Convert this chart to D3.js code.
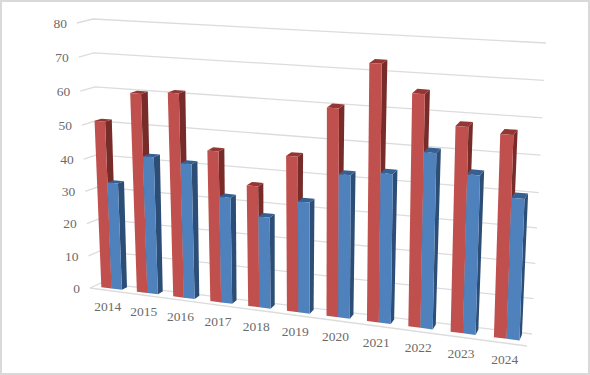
<!DOCTYPE html>
<html>
<head>
<meta charset="utf-8">
<script src="https://cdn.jsdelivr.net/npm/d3@7"></script>
<style>
  html, body { margin: 0; padding: 0; background: #fff; }
  svg { display: block; }
  text { font-family: "Liberation Serif", serif; font-size: 13.5px; fill: #6b6b6b; }
</style>
</head>
<body>
<svg id="chart" width="590" height="375"></svg>
<script>
const years = ["2014", "2015", "2016", "2017", "2018", "2019", "2020", "2021", "2022", "2023", "2024"];
const redValues = [51, 60, 61, 45.3, 36.2, 45.8, 60.3, 73.5, 66, 58, 56.8];
const blueValues = [32.8, 41.9, 40.9, 31.9, 27.2, 32.9, 42, 43.4, 50.2, 45.2, 40];
const seriesColors = [
  { values: redValues, front: "#c0504d", side: "#772c2a", top: "#943634", band: 0 },
  { values: blueValues, front: "#4f81bd", side: "#2c4d75", top: "#376092", band: 1 }
];

const svg = d3.select("#chart");

// corners of the 3d box on screen: f/b = front/back, l/r = left/right
const box = {
  flb: [90, 288], flt: [77, 23], frb: [527, 346], frt: [536, 54],
  blb: [101, 283], blt: [93, 19], brb: [532, 334], brt: [546, 43]
};

const x = d3.scaleBand().domain(years).range([0, 1]).paddingInner(0.42).paddingOuter(0.21);
const pair = d3.scaleBand().domain([0, 1]).range([0, x.bandwidth()]);
const y = d3.scaleLinear().domain([0, 40, 80]).range([0, 0.486, 1]);
const depth = { front: 0.36, back: 0.84 };

const lerp = (a, b, t) => [a[0] + (b[0] - a[0]) * t, a[1] + (b[1] - a[1]) * t];

// u across the categories, v the value, d from front (0) to back (1)
function project(u, v, d) {
  const k = 1.128; // right end is nearer, so the spacing grows
  const t = u / (u + k * (1 - u));
  const s = y(v);
  const front = lerp(lerp(box.flb, box.frb, t), lerp(box.flt, box.frt, t), s);
  const back = lerp(lerp(box.blb, box.brb, t), lerp(box.blt, box.brt, t), s);
  return lerp(front, back, d);
}

const poly = pts => "M" + pts.map(p => p.map(n => n.toFixed(2)).join(",")).join("L") + "Z";

// border
svg.append("rect")
  .attr("x", 1).attr("y", 1)
  .attr("width", 588).attr("height", 373)
  .attr("fill", "none")
  .attr("stroke", "#d9d9d9")
  .attr("stroke-width", 2);

// gridlines, side wall then back wall
const grid = svg.append("g")
  .attr("fill", "none")
  .attr("stroke", "#dcdcdc")
  .attr("stroke-width", 1.3);

y.copy().domain([0, 80]).ticks(8).forEach(v => {
  const pts = [project(0, v, 0), project(0, v, 1), project(1, v, 1)];
  grid.append("path").attr("d", d3.line()(pts));
});
grid.append("path").attr("d", d3.line()([project(0, 0, 0), project(1, 0, 0)]));

// value labels
svg.append("g").selectAll("text")
  .data(d3.range(0, 81, 10))
  .join("text")
    .attr("x", d => project(0, d, 0)[0] - 10)
    .attr("y", d => project(0, d, 0)[1])
    .attr("dy", "0.35em")
    .attr("text-anchor", "end")
    .text(d => d);

// year labels
svg.append("g").selectAll("text")
  .data(years)
  .join("text")
    .attr("x", d => project(x(d) + x.bandwidth() / 2, 0, 0)[0])
    .attr("y", d => project(x(d) + x.bandwidth() / 2, 0, 0)[1] + 16)
    .attr("dy", "0.35em")
    .attr("text-anchor", "middle")
    .text(d => d);

// bars, red before blue in each year
const bars = svg.append("g");
years.forEach((year, i) => {
  seriesColors.forEach(s => {
    const u0 = x(year) + pair(s.band);
    const u1 = u0 + pair.bandwidth();
    const v = s.values[i];
    const g = bars.append("g");
    g.append("path")
      .attr("fill", s.side)
      .attr("d", poly([project(u1, 0, depth.front), project(u1, v, depth.front), project(u1, v, depth.back), project(u1, 0, depth.back)]));
    g.append("path")
      .attr("fill", s.top)
      .attr("d", poly([project(u0, v, depth.front), project(u1, v, depth.front), project(u1, v, depth.back), project(u0, v, depth.back)]));
    g.append("path")
      .attr("fill", s.front)
      .attr("d", poly([project(u0, 0, depth.front), project(u1, 0, depth.front), project(u1, v, depth.front), project(u0, v, depth.front)]));
  });
});
</script>
</body>
</html>
